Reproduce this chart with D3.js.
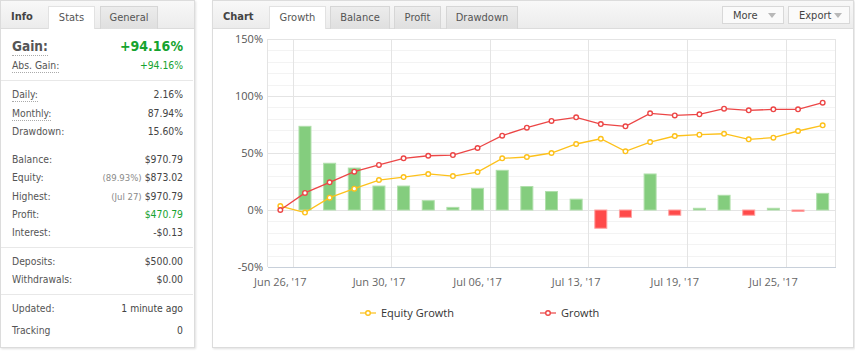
<!DOCTYPE html>
<html>
<head>
<meta charset="utf-8">
<script src="https://cdn.jsdelivr.net/npm/d3@7"></script>
<style>
body { margin: 0; background: #fff; width: 855px; height: 351px; overflow: hidden;
       font-family: 'DejaVu Sans Condensed', 'DejaVu Sans', sans-serif; }
.panel { position: absolute; top: 0; height: 348px; border: 1px solid #dcdcdc; background: #fff;
         box-shadow: 1px 1px 2px rgba(0,0,0,0.12); box-sizing: border-box; }
.head { position: absolute; left: 0; right: 0; top: 0; height: 27px;
        background: linear-gradient(#f8f8f8, #ececec); border-bottom: 1px solid #dcdcdc; }
.title { position: absolute; top: 9px; font-weight: bold; font-size: 11px; color: #444; }
.tab { position: absolute; top: 5px; height: 23px; line-height: 22px; text-align: center; font-size: 11px;
       color: #555; border: 1px solid #d6d6d6; border-bottom: none; box-sizing: border-box;
       background: linear-gradient(#ececec, #dfdfdf); }
.tab.on { background: #fff; border-color: #e2e2e2; height: 23px; }
.btn { position: absolute; top: 5px; height: 18px; line-height: 17px; font-size: 11px; color: #444;
       border: 1px solid #d8d8d8; background: #fafafa; box-sizing: border-box; padding-left: 10px; }
.btn:after { content: ''; position: absolute; right: 7px; top: 6px; border-left: 4px solid transparent;
             border-right: 4px solid transparent; border-top: 5px solid #b8b8b8; }
.row { position: absolute; left: 11px; width: 171px; font-size: 10.3px; color: #555; height: 14px; line-height: 14px; }
.row .v { position: absolute; right: 0; top: 0; color: #444; }
.row .n { color: #8a8a8a; font-size: 9.5px; margin-right: 3px; }
.dot { border-bottom: 1px dotted #aaa; padding-bottom: 1px; }
.sep { position: absolute; left: 0; width: 192px; height: 1px; background: #e8e8e8; }
svg { position: absolute; left: 0; top: 0; }
</style>
</head>
<body>
<div class="panel" id="info" style="left:0;width:195px;">
  <div class="head"></div>
  <div class="title" style="left:10px;">Info</div>
  <div class="tab on" style="left:47px;width:47px;">Stats</div>
  <div class="tab" style="left:99px;width:58px;">General</div>
</div>
<div class="panel" id="chartPanel" style="left:212px;width:642px;">
  <div class="head"></div>
  <div class="title" style="left:10px;">Chart</div>
  <div class="tab on" style="left:56px;width:57px;">Growth</div>
  <div class="tab" style="left:117px;width:60px;">Balance</div>
  <div class="tab" style="left:181px;width:47px;">Profit</div>
  <div class="tab" style="left:233px;width:72px;">Drawdown</div>
  <div class="btn" style="left:509px;width:62px;">More</div>
  <div class="btn" style="left:575px;width:62px;">Export</div>
</div>
<svg id="chart" width="855" height="351"></svg>
<script>
// Stats panel
const gainLabel = 'Gain:', gainValue = '+94.16%';
const statLabels = ['Abs. Gain:', 'Daily:', 'Monthly:', 'Drawdown:', 'Balance:', 'Equity:', 'Highest:',
    'Profit:', 'Interest:', 'Deposits:', 'Withdrawals:', 'Updated:', 'Tracking'];
const statValues = ['+94.16%', '2.16%', '87.94%', '15.60%', '$970.79', '$873.02', '$970.79',
    '$470.79', '-$0.13', '$500.00', '$0.00', '1 minute ago', '0'];
const statNotes = { 'Equity:': '(89.93%)', 'Highest:': '(Jul 27)' };
const dottedLabels = ['Abs. Gain:', 'Daily:', 'Monthly:'];
const greenLabels = ['Abs. Gain:', 'Profit:'];

// Growth chart
const dates = ['Jun 26', 'Jun 27', 'Jun 28', 'Jun 29', 'Jun 30', 'Jul 03', 'Jul 04', 'Jul 05', 'Jul 06',
    'Jul 07', 'Jul 10', 'Jul 11', 'Jul 13', 'Jul 14', 'Jul 17', 'Jul 18', 'Jul 19', 'Jul 20', 'Jul 21',
    'Jul 24', 'Jul 25', 'Jul 26', 'Jul 27'];
const growth = [0, 15, 24.3, 33.6, 39.5, 45.3, 47.6, 48.2, 54.4, 65.2, 72.2, 78.1, 81.3, 75.4, 73.4,
    84.8, 83.0, 83.9, 88.9, 87.4, 88.3, 88.3, 94.16];
const equityGrowth = [3.5, -2.3, 10.8, 18.7, 26.3, 28.9, 31.6, 29.8, 33.3, 45.3, 46.5, 50.0, 57.9, 62.5,
    51.5, 59.6, 64.9, 66.1, 66.9, 62.0, 63.4, 69.3, 74.3];
const dailyGain = [0, 73.4, 41.0, 36.8, 21.0, 21.0, 8.2, 2.3, 19.0, 34.8, 20.6, 16.2, 9.5, -16.0, -6.4,
    31.6, -4.6, 1.5, 12.9, -4.6, 1.5, -1.2, 14.6];
const yTicks = [-50, 0, 50, 100, 150];
const labelEvery = 4;

/**
 * Stats rows.
 */
const rowY = [65, 94, 113, 131, 159, 177, 196, 214, 232, 261, 279, 308, 330];
const info = d3.select('#info');

const gainRow = info.append('div').attr('class', 'row').style('top', '38px').style('height', '18px');
gainRow.append('span').attr('class', 'dot')
    .style('font-size', '13.5px').style('font-weight', 'bold').style('color', '#555')
    .text(gainLabel);
gainRow.append('span').attr('class', 'v')
    .style('font-size', '14px').style('font-weight', 'bold').style('color', '#16a32f')
    .text(gainValue);

const rows = info.selectAll('.stat').data(statLabels).enter().append('div')
    .attr('class', 'row stat')
    .style('top', (d, i) => (rowY[i] - 8) + 'px');
rows.append('span')
    .attr('class', d => dottedLabels.includes(d) ? 'dot' : null)
    .text(d => d);
const vals = rows.append('span').attr('class', 'v')
    .style('color', d => greenLabels.includes(d) ? '#16a32f' : null);
vals.filter(d => statNotes[d]).append('span').attr('class', 'n').text(d => statNotes[d]);
vals.append('span').text((d, i) => statValues[i]);

info.selectAll('.sep').data([79, 246, 293]).enter().append('div')
    .attr('class', 'sep').style('top', d => d + 'px');

/**
 * Chart.
 */
const svg = d3.select('#chart');
const plot = { left: 268, right: 835, top: 39, bottom: 267 };

const x = d3.scaleBand().domain(dates).range([plot.left, plot.right]).padding(0);
const y = d3.scaleLinear().domain([-50, 150]).range([plot.bottom, plot.top]);
const bw = x.bandwidth();
const cx = d => x(d) + bw / 2;

// Grid
const minor = d3.range(-50, 151, 10).filter(v => !yTicks.includes(v));
svg.append('g').selectAll('line').data(minor).enter().append('line')
    .attr('x1', plot.left).attr('x2', plot.right)
    .attr('y1', d => Math.round(y(d)) + 0.5).attr('y2', d => Math.round(y(d)) + 0.5)
    .attr('stroke', '#f3f3f3');
svg.append('g').selectAll('line').data(yTicks).enter().append('line')
    .attr('x1', plot.left).attr('x2', plot.right)
    .attr('y1', d => Math.round(y(d)) + 0.5).attr('y2', d => Math.round(y(d)) + 0.5)
    .attr('stroke', '#e4e4e4');

const tickIdx = d3.range(0, dates.length, labelEvery);
svg.append('g').selectAll('line').data(tickIdx).enter().append('line')
    .attr('x1', i => Math.round(x(dates[i]) + bw) + 0.5).attr('x2', i => Math.round(x(dates[i]) + bw) + 0.5)
    .attr('y1', plot.top).attr('y2', plot.bottom)
    .attr('stroke', '#e4e4e4');
svg.append('line').attr('x1', plot.left - 0.5).attr('x2', plot.left - 0.5)
    .attr('y1', plot.top).attr('y2', plot.bottom).attr('stroke', '#e4e4e4');
svg.append('line').attr('x1', plot.right + 0.5).attr('x2', plot.right + 0.5)
    .attr('y1', plot.top).attr('y2', plot.bottom).attr('stroke', '#e4e4e4');
svg.append('line').attr('x1', plot.left).attr('x2', plot.right + 1)
    .attr('y1', plot.bottom + 0.5).attr('y2', plot.bottom + 0.5).attr('stroke', '#c8d0da');

// Axis labels
svg.append('g').selectAll('text').data(yTicks).enter().append('text')
    .attr('x', 263).attr('y', d => y(d) + 4)
    .attr('text-anchor', 'end')
    .style('font', "11px 'Open Sans', sans-serif").style('fill', '#555')
    .text(d => d + '%');
svg.append('g').selectAll('text').data(tickIdx).enter().append('text')
    .attr('x', i => cx(dates[i])).attr('y', 286)
    .attr('text-anchor', 'middle')
    .style('font', "11px 'Open Sans', sans-serif").style('fill', '#666')
    .text(i => dates[i] + ", '17");

// Daily gain bars
const barW = 12;
svg.append('g').selectAll('rect').data(dailyGain).enter().append('rect')
    .attr('x', (d, i) => cx(dates[i]) - barW / 2)
    .attr('y', d => y(Math.max(0, d)))
    .attr('width', barW)
    .attr('height', d => Math.abs(y(d) - y(0)))
    .attr('fill', d => d >= 0 ? '#84cd7e' : '#ff4a4a')
    .attr('stroke', d => d >= 0 ? '#b0dfab' : '#ffa0a0')
    .attr('stroke-width', 1);

// Lines
function drawSeries(values, color) {
    const line = d3.line().x((d, i) => cx(dates[i])).y(d => y(d));
    svg.append('path').datum(values)
        .attr('d', line)
        .attr('fill', 'none').attr('stroke', color).attr('stroke-width', 1.3);
    svg.append('g').selectAll('circle').data(values).enter().append('circle')
        .attr('cx', (d, i) => cx(dates[i])).attr('cy', d => y(d))
        .attr('r', 2.3)
        .attr('fill', '#fff').attr('stroke', color).attr('stroke-width', 1.4);
}
drawSeries(equityGrowth, '#fdc11b');
drawSeries(growth, '#ec4646');

// Legend
const legend = [{ name: 'Equity Growth', color: '#fdc11b', x: 360 }, { name: 'Growth', color: '#ec4646', x: 540 }];
const lg = svg.append('g').selectAll('g').data(legend).enter().append('g')
    .attr('transform', d => 'translate(' + d.x + ',313)');
lg.append('line').attr('x1', 0).attr('x2', 16).attr('y1', 0).attr('y2', 0)
    .attr('stroke', d => d.color).attr('stroke-width', 2).attr('opacity', 0.6);
lg.append('circle').attr('cx', 8).attr('cy', 0).attr('r', 2.3)
    .attr('fill', '#fff').attr('stroke', d => d.color).attr('stroke-width', 1.4);
lg.append('text').attr('x', 21).attr('y', 4)
    .style('font', "11px 'Open Sans', sans-serif").style('fill', '#333')
    .text(d => d.name);
</script>
</body>
</html>
